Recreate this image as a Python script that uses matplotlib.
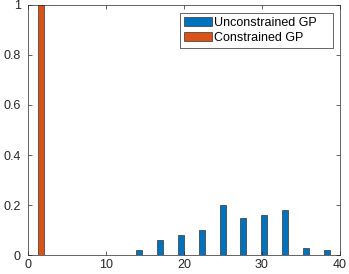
import numpy as np
import matplotlib
matplotlib.use("Agg")
import matplotlib.pyplot as plt

plt.rcParams['font.family'] = ['Liberation Sans', 'DejaVu Sans']

# 15 histogram bins over [0, 40]
bin_edges = np.linspace(0, 40, 16)
bin_centers = (bin_edges[:-1] + bin_edges[1:]) / 2
unconstrained = [0, 0, 0, 0, 0, 0.02, 0.06, 0.08, 0.10, 0.20, 0.15, 0.16, 0.18, 0.03, 0.02]
constrained = [1.0, 0, 0, 0, 0, 0, 0, 0, 0, 0, 0, 0, 0, 0, 0]
series_labels = ["Unconstrained GP", "Constrained GP"]
xticks = [0, 10, 20, 30, 40]
yticks = [0, 0.2, 0.4, 0.6, 0.8, 1]
ytick_labels = ["0", "0.2", "0.4", "0.6", "0.8", "1"]

fig = plt.figure(figsize=(3.49, 2.74), dpi=100)
ax = fig.add_axes([0.080, 0.069, 0.894, 0.913])

step = bin_edges[1] - bin_edges[0]
off = 0.143 * step
w = 0.29 * step
ax.bar(bin_centers - off, unconstrained, width=w, color='#0072BD',
       edgecolor='#333333', linewidth=0.5, label=series_labels[0])
ax.bar(bin_centers + off, constrained, width=w, color='#D95319',
       edgecolor='#333333', linewidth=0.5, label=series_labels[1])

ax.set_xlim(0, 40)
ax.set_ylim(0, 1)
ax.set_xticks(xticks)
ax.set_yticks(yticks)
ax.set_yticklabels(ytick_labels)
ax.tick_params(direction='in', top=True, right=True, length=3, width=0.5,
               labelsize=9, colors='#262626')
ax.tick_params(axis='x', pad=3)
ax.tick_params(axis='y', pad=5)
for s in ax.spines.values():
    s.set_linewidth(0.5)
    s.set_color('#262626')

leg = ax.legend(loc='upper left', bbox_to_anchor=(0.487, 0.0, 0.491, 0.968),
                mode='expand', borderaxespad=0,
                fontsize=9, handlelength=2.3, handleheight=0.8,
                fancybox=False, edgecolor='#262626', framealpha=1,
                borderpad=0.3, labelspacing=0.25, handletextpad=0.1)
leg.get_frame().set_linewidth(0.5)

fig.savefig("out.png", dpi=100)
